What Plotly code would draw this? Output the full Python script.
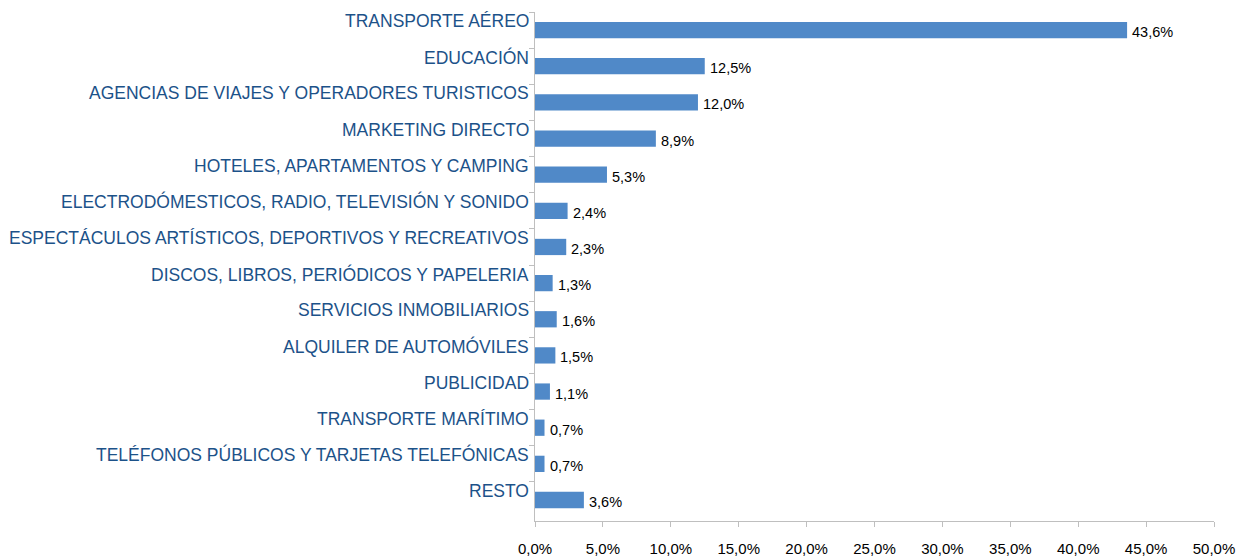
import plotly.graph_objects as go

categories = [
    "TRANSPORTE AÉREO",
    "EDUCACIÓN",
    "AGENCIAS DE VIAJES Y OPERADORES TURISTICOS",
    "MARKETING DIRECTO",
    "HOTELES, APARTAMENTOS Y CAMPING",
    "ELECTRODÓMESTICOS, RADIO, TELEVISIÓN Y SONIDO",
    "ESPECTÁCULOS ARTÍSTICOS, DEPORTIVOS Y RECREATIVOS",
    "DISCOS, LIBROS, PERIÓDICOS Y PAPELERIA",
    "SERVICIOS INMOBILIARIOS",
    "ALQUILER DE AUTOMÓVILES",
    "PUBLICIDAD",
    "TRANSPORTE MARÍTIMO",
    "TELÉFONOS PÚBLICOS Y TARJETAS TELEFÓNICAS",
    "RESTO",
]
values = [43.6, 12.5, 12.0, 8.9, 5.3, 2.4, 2.3, 1.3, 1.6, 1.5, 1.1, 0.7, 0.7, 3.6]
x_ticks = [0, 5, 10, 15, 20, 25, 30, 35, 40, 45, 50]

value_labels = [f"{v:.1f}".replace(".", ",") + "%" for v in values]
tick_text = [f"{t:.1f}".replace(".", ",") + "%" for t in x_ticks]

FONT = "Liberation Sans, Arial, sans-serif"

fig = go.Figure(
    go.Bar(
        x=values,
        y=categories,
        orientation="h",
        marker=dict(color="#5089C8", line=dict(width=0)),
        width=0.45,
        hoverinfo="skip",
    )
)

for c, v, t in zip(categories, values, value_labels):
    fig.add_annotation(
        x=v, xref="x", y=c, yref="y",
        text=t, showarrow=False,
        xanchor="left", yanchor="middle",
        xshift=3, yshift=-2,
        font=dict(family=FONT, size=14.5, color="#000000"),
    )

for c in categories:
    fig.add_annotation(
        x=0, xref="paper", y=c, yref="y",
        text=c, showarrow=False,
        xanchor="right", yanchor="middle",
        xshift=-4, yshift=9,
        font=dict(family=FONT, size=17.5, color="#1C5289"),
    )

fig.update_layout(
    width=1245, height=557,
    margin=dict(l=535, r=31, t=12, b=36, autoexpand=False),
    plot_bgcolor="white", paper_bgcolor="white",
    showlegend=False,
)
fig.update_xaxes(
    range=[0, 50],
    tickvals=x_ticks, ticktext=tick_text,
    showgrid=False, zeroline=False,
    showline=True, linecolor="#BFBFBF", linewidth=1,
    ticks="outside", ticklen=5, tickcolor="#BFBFBF",
    tickfont=dict(family=FONT, size=15, color="#000000"),
    ticklabelstandoff=9,
    automargin=False,
)
fig.update_yaxes(
    autorange="reversed",
    showticklabels=False,
    showgrid=False, zeroline=False,
    showline=True, linecolor="#BFBFBF", linewidth=1,
    ticks="outside", ticklen=5, tickcolor="#BFBFBF",
    tickson="boundaries",
    automargin=False,
)

fig.write_html(
    "out.html",
    config={"displayModeBar": False},
    post_script="document.body.style.margin='0';",
)
